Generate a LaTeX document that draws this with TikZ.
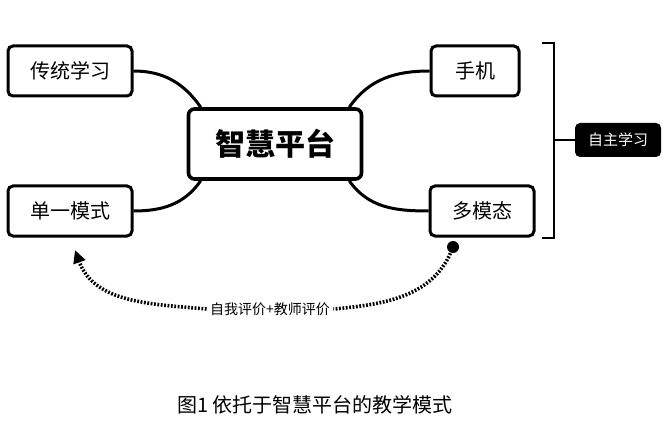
\documentclass[tikz,border=0pt]{standalone}
\usepackage{fontspec}
\setmainfont{Noto Sans CJK SC}
\usetikzlibrary{arrows.meta}
\begin{document}
\begin{tikzpicture}[x=1pt,y=-1pt,
 box/.style={draw,line width=3pt,rounded corners=5pt,minimum height=50pt,font=\fontsize{20}{24}\selectfont},
 conn/.style={line width=3pt},
 dotl/.style={line width=3.6pt,dash pattern=on 1.8pt off 1.6pt}]
\useasboundingbox (0,0) rectangle (669,422);
\node[box,minimum width=124pt] (a) at (70,71) {传统学习};
\node[box,minimum width=124pt] (b) at (70,211) {单一模式};
\node[box,minimum width=88pt] (c) at (475,71) {手机};
\node[box,minimum width=104pt] (d) at (482,211) {多模态};
\node[draw,line width=3.6pt,rounded corners=6pt,minimum width=173pt,minimum height=70pt,font=\fontsize{30}{34}\selectfont\bfseries] (m) at (275,144) {智慧平台};
\node[fill=black,text=white,rounded corners=5pt,minimum width=86pt,minimum height=34pt,font=\fontsize{15}{18}\selectfont] (z) at (618,140) {自主学习};
\draw[conn] (a.east) to[out=0,in=125] ([xshift=14pt]m.north west);
\draw[conn] (b.east) to[out=0,in=-125] ([xshift=14pt]m.south west);
\draw[conn] (c.west) to[out=180,in=55] ([xshift=-14pt]m.north east);
\draw[conn] (d.west) to[out=180,in=-55] ([xshift=-14pt]m.south east);
\draw[line width=2.6pt] (542,43) -- (554,43) -- (554,238) -- (542,238);
\coordinate (bt) at (554,140);
\draw[line width=2.6pt] (bt) -- (z.west);
\node[font=\fontsize{14}{16}\selectfont] (l) at (270,309) {自我评价+教师评价};
\coordinate (s) at (453,247);
\coordinate (e) at (75,250);
\fill (s) circle (6pt);
\draw[dotl] (s) to[out=-110,in=5] (l.east);
\draw[dotl,-{Triangle[length=13pt,width=12pt]}] (l.west) to[out=175,in=-70] (e);
\node[font=\fontsize{20}{24}\selectfont] (cap) at (315,405) {图1 依托于智慧平台的教学模式};
\end{tikzpicture}
\end{document}
